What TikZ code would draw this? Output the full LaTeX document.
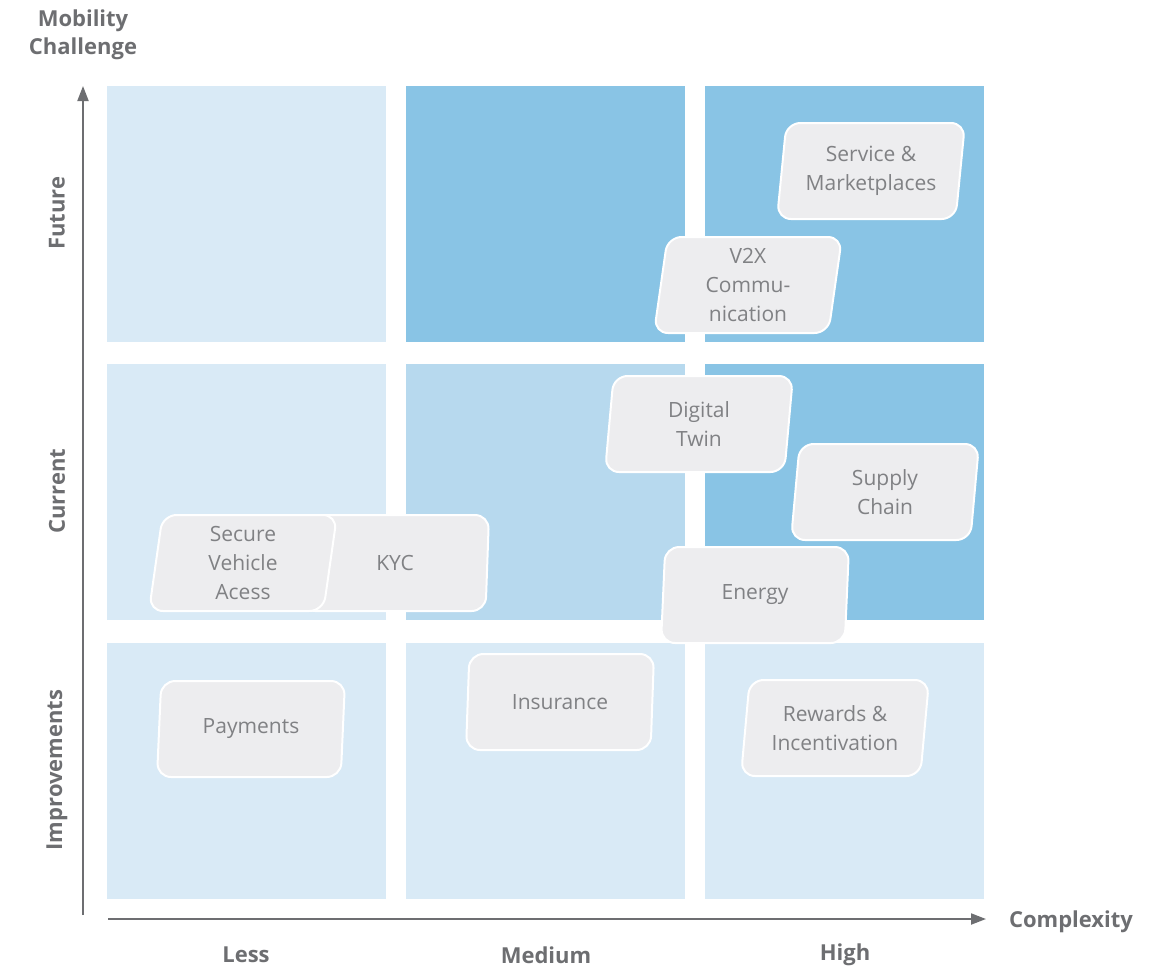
\documentclass[tikz,border=0pt]{standalone}
\usepackage{fontspec}
\setmainfont{Open Sans}
\usetikzlibrary{arrows.meta, shapes.geometric}
\definecolor{cellLight}{HTML}{D9EAF6}
\definecolor{cellMid}{HTML}{B7D9EE}
\definecolor{cellDark}{HTML}{89C4E5}
\definecolor{tileFill}{HTML}{EDEDEF}
\definecolor{axisGray}{HTML}{6D6E71}
\definecolor{tileText}{HTML}{808184}

\begin{document}
\begin{tikzpicture}[x=1pt, y=-1pt]
	\useasboundingbox (0,0) rectangle (1169,969);
	\tikzstyle{cell} = [inner sep=0pt, minimum width=279pt, minimum height=256pt, anchor=north west]
	\tikzstyle{tile} = [trapezium, trapezium left angle=80, trapezium right angle=100, trapezium stretches body, minimum width=188pt, minimum height=96pt, fill=tileFill, draw=white, line width=2pt, rounded corners=14pt, text=tileText, align=center, inner sep=2pt, font=\fontsize{21}{29}\selectfont]
	\tikzstyle{axislabel} = [text=axisGray, font=\fontsize{22}{28}\selectfont\bfseries, align=center]
	\tikzstyle{axis} = [draw=axisGray, line width=2pt, -{Triangle[length=15pt, width=11pt]}]
	
	% grid of cells
	\node[cell, fill=cellLight] (c11) at (107,86) {}; \node[cell, fill=cellDark] (c12) at (406,86) {}; \node[cell, fill=cellDark] (c13) at (705,86) {};
	\node[cell, fill=cellLight] (c21) at (107,364) {}; \node[cell, fill=cellMid] (c22) at (406,364) {}; \node[cell, fill=cellDark] (c23) at (705,364) {};
	\node[cell, fill=cellLight] (c31) at (107,643) {}; \node[cell, fill=cellLight] (c32) at (406,643) {}; \node[cell, fill=cellLight] (c33) at (705,643) {};
	
	% axes
	\coordinate (origin) at (83,915); \coordinate (ytip) at (83,86); \coordinate (xstart) at (108,919); \coordinate (xtip) at (986,919);
	\draw[axis] (origin) -- (ytip); \draw[axis] (xstart) -- (xtip);
	\node[axislabel] (ylabel) at (83,35) {Mobility\\Challenge}; \node[axislabel] (xlabel) at (1071,922) {Complexity};
	\node[axislabel] (less) at (246,955) {Less}; \node[axislabel] (medium) at (546,955) {Medium}; \node[axislabel] (high) at (845,955) {High};
	\node[axislabel, rotate=90] (future) at (57,213) {Future}; \node[axislabel, rotate=90] (current) at (57,491) {Current}; \node[axislabel, rotate=90] (improvements) at (57,770) {Improvements};
	
	% use cases
	\node[tile] (service) at (871,171) {Service \&\\Marketplaces}; \node[tile] (v2x) at (748,285) {V2X\\Commu-\\nication};
	\node[tile] (twin) at (699,424) {Digital\\Twin}; \node[tile] (supply) at (885,492) {Supply\\Chain}; \node[tile] (energy) at (755,595) {Energy};
	\node[tile] (kyc) at (395,563) {KYC}; \node[tile] (access) at (243,563) {Secure\\Vehicle\\Acess};
	\node[tile] (payments) at (251,729) {Payments}; \node[tile] (insurance) at (560,702) {Insurance}; \node[tile] (rewards) at (835,728) {Rewards \&\\Incentivation};
\end{tikzpicture}
\end{document}
